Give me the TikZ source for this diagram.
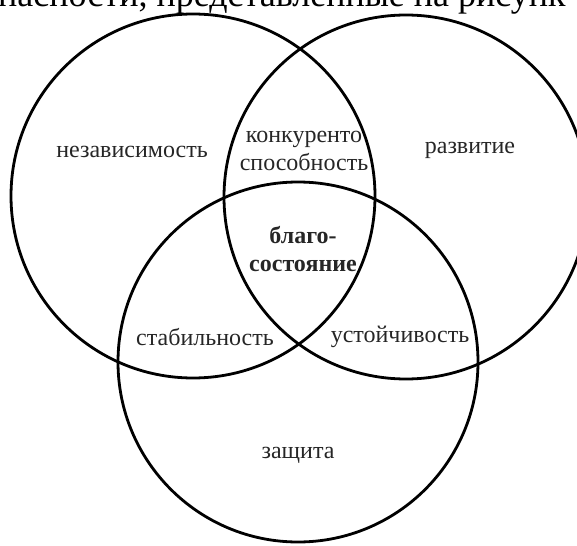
\documentclass[tikz,border=0pt]{standalone}
\usepackage{fontspec}
\setmainfont{Liberation Serif}

\tikzset{
  lbl/.style={font=\fontsize{24}{28.5}\selectfont, align=center, text=black!85, inner sep=0pt},
  ring/.style={line width=2.8pt}
}

\begin{document}
\begin{tikzpicture}[x=1pt,y=-1pt]
    \useasboundingbox (0,0) rectangle (577,545);
    \clip (0,0) rectangle (577,545);

    \node[anchor=base west, inner sep=0pt, font=\fontsize{36}{40}\selectfont] (head)
      at (-2,7) {пасности, представленные на рисунк};

    % three circles
    \coordinate (cl) at (193,196);
    \coordinate (cr) at (406,197);
    \coordinate (cb) at (298,362);
    \draw[ring] (cl) circle (182pt);
    \draw[ring] (cr) circle (182pt);
    \draw[ring] (cb) circle (180pt);

    \node[lbl] (nez)  at (132,152) {независимость};
    \node[lbl] (kon)  at (304,151) {конкуренто\\способность};
    \node[lbl] (raz)  at (470,150) {развитие};
    \node[lbl, font=\fontsize{24}{28.5}\selectfont\bfseries] (blago) at (303,249) {благо-\\состояние};
    \node[lbl] (stab) at (205,337) {стабильность};
    \node[lbl] (ust)  at (400,337) {устойчивость};
    \node[lbl] (zas)  at (298,455) {защита};
\end{tikzpicture}
\end{document}
